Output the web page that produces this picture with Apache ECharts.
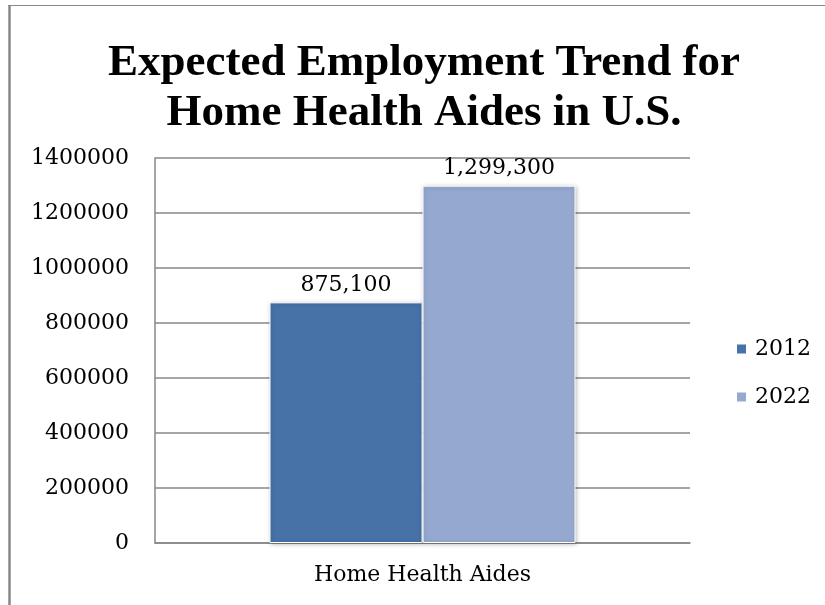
<!DOCTYPE html>
<html>
<head>
<meta charset="utf-8">
<style>
  html, body { margin: 0; padding: 0; background: #ffffff; }
  #chart { width: 825px; height: 605px; }
</style>
<script src="https://cdn.jsdelivr.net/npm/echarts@6/dist/echarts.min.js"></script>
</head>
<body>
<div id="chart"></div>
<script>
// Projected employment of home health aides, 2012 vs 2022
const categories = ['Home Health Aides'];
const seriesNames = ['2012', '2022'];
const values2012 = [875100];
const values2022 = [1299300];
const seriesColors = ['#4672A7', '#95A9D0'];

const serifFont = '"DejaVu Serif", "Liberation Serif", serif';
const gridColor = '#878787';

function barSeries(name, data, color) {
  return {
    name: name,
    type: 'bar',
    data: data,
    barWidth: 153,
    barGap: '0%',
    itemStyle: {
      color: color,
      borderColor: '#ffffff',
      borderWidth: 1,
      shadowColor: 'rgba(0,0,0,0.25)',
      shadowBlur: 4,
      shadowOffsetX: 1,
      shadowOffsetY: 1
    },
    label: {
      show: true,
      position: 'top',
      distance: 6,
      color: '#000000',
      fontFamily: serifFont,
      fontSize: 22,
      formatter: p => p.value.toLocaleString('en-US')
    }
  };
}

const chart = echarts.init(document.getElementById('chart'), null, { renderer: 'canvas' });

chart.setOption({
  backgroundColor: '#ffffff',
  animation: false,
  title: {
    text: 'Expected Employment Trend for\nHome Health Aides in U.S.',
    left: 419,
    top: 33,
    textAlign: 'center',
    textStyle: {
      fontFamily: '"Liberation Serif", serif',
      fontWeight: 'bold',
      fontSize: 45,
      lineHeight: 50,
      color: '#000000'
    }
  },
  legend: {
    orient: 'vertical',
    left: 730,
    top: 333,
    itemWidth: 11,
    itemHeight: 11,
    itemGap: 26,
    icon: 'rect',
    data: seriesNames,
    textStyle: {
      fontFamily: serifFont,
      fontSize: 22,
      lineHeight: 22,
      color: '#000000',
      padding: [0, 0, 0, 3]
    }
  },
  grid: {
    left: 155,
    right: 135,
    top: 158,
    bottom: 62,
    containLabel: false
  },
  xAxis: {
    type: 'category',
    data: categories,
    axisLine: { show: true, lineStyle: { color: gridColor, width: 1.5 } },
    axisTick: { show: false },
    axisLabel: {
      margin: 21,
      color: '#000000',
      fontFamily: serifFont,
      fontSize: 22
    }
  },
  yAxis: {
    type: 'value',
    min: 0,
    max: 1400000,
    interval: 200000,
    axisLine: { show: true, lineStyle: { color: gridColor, width: 1.5 } },
    axisTick: { show: false },
    splitLine: { show: true, lineStyle: { color: gridColor, width: 1.5 } },
    axisLabel: {
      margin: 26,
      color: '#000000',
      fontFamily: serifFont,
      fontSize: 22,
      formatter: v => String(v)
    }
  },
  graphic: [
    {
      type: 'line',
      shape: { x1: 9.5, y1: 5, x2: 9.5, y2: 605 },
      style: { stroke: gridColor, lineWidth: 2.5 }
    },
    {
      type: 'line',
      shape: { x1: 8, y1: 5.5, x2: 825, y2: 5.5 },
      style: { stroke: gridColor, lineWidth: 1.2 }
    }
  ],
  series: [
    barSeries(seriesNames[0], values2012, seriesColors[0]),
    barSeries(seriesNames[1], values2022, seriesColors[1])
  ]
});
</script>
</body>
</html>
